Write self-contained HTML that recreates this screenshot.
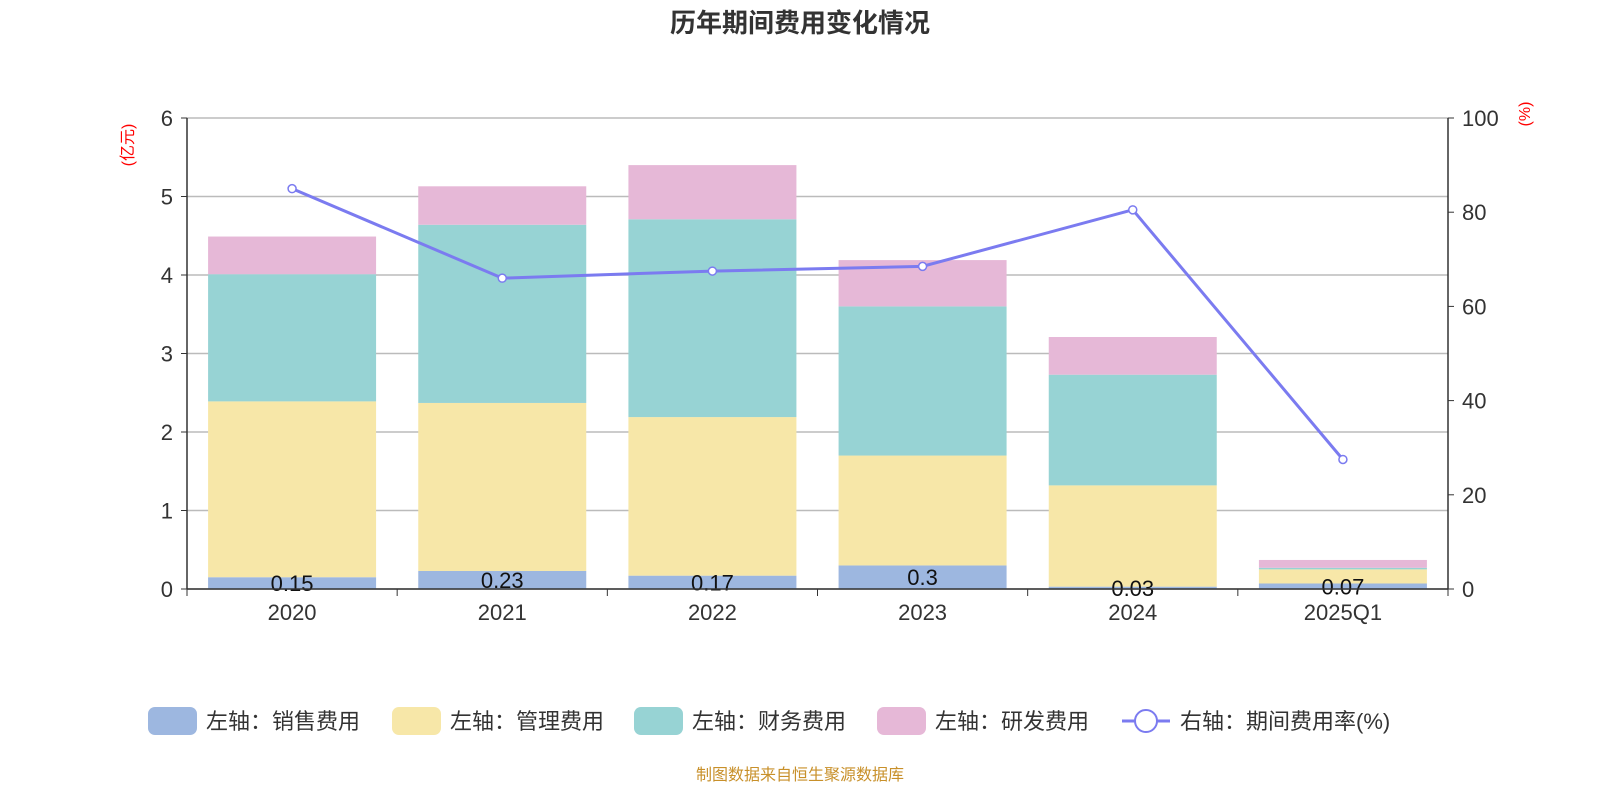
<!DOCTYPE html>
<html><head><meta charset="utf-8"><style>
body{margin:0;background:#fff;}
svg text{font-family:"Liberation Sans","Noto Sans CJK SC",sans-serif;}
</style></head><body>
<svg id="c" width="1600" height="800" xmlns="http://www.w3.org/2000/svg">
<text x="800" y="32" text-anchor="middle" font-size="26" font-weight="bold" fill="#333">历年期间费用变化情况</text>
<g id="grid"></g><g id="bars"></g><g id="line"></g><g id="axes"></g>
<text x="0" y="0" transform="translate(133,145) rotate(-90)" text-anchor="middle" font-size="16" fill="#f00">(亿元)</text>
<text x="0" y="0" transform="translate(1530,114) rotate(-90)" text-anchor="middle" font-size="16" fill="#f00">(%)</text>
<g id="legend"></g>
<text x="800" y="780" text-anchor="middle" font-size="16" fill="#c8902a">制图数据来自恒生聚源数据库</text>
</svg>
<script>
const categories=["2020","2021","2022","2023","2024","2025Q1"];
const sales=[0.15,0.23,0.17,0.3,0.03,0.07];
const mgmt=[2.24,2.14,2.02,1.40,1.29,0.18];
const fin=[1.62,2.27,2.52,1.90,1.41,0.02];
const rd=[0.48,0.49,0.69,0.59,0.48,0.10];
const rate=[85,66,67.5,68.5,80.5,27.5];
const leftTicks=[0,1,2,3,4,5,6];
const rightTicks=[0,20,40,60,80,100];
const NS="http://www.w3.org/2000/svg";
const X0=187,X1=1448,Y0=589,Y1=118;
const band=(X1-X0)/categories.length;
const xc=i=>X0+band*(i+0.5);
const yl=v=>Y0-(Y0-Y1)*v/6;
const yr=v=>Y0-(Y0-Y1)*v/100;
function mk(tag,attrs,parent){const e=document.createElementNS(NS,tag);for(const k in attrs)e.setAttribute(k,attrs[k]);document.getElementById(parent).appendChild(e);return e;}
leftTicks.forEach(t=>{
 const l=mk('line',{x1:X0,x2:X1,y1:yl(t),y2:yl(t),stroke:'#bbb','stroke-width':1.5},'grid');
 
 
 const tx=mk('text',{x:X0-14,y:yl(t)+8,'text-anchor':'end','font-size':22,fill:'#333'},'axes');tx.textContent=t;
 
 
 mk('line',{x1:X0-6,x2:X0,y1:yl(t),y2:yl(t),stroke:'#333'},'axes');
});
rightTicks.forEach(t=>{
 const tx=mk('text',{x:X1+14,y:yr(t)+8,'font-size':22,fill:'#333'},'axes');tx.textContent=t;
 
 
 mk('line',{x1:X1,x2:X1+6,y1:yr(t),y2:yr(t),stroke:'#333'},'axes');
});
mk('line',{x1:X0,x2:X0,y1:Y1,y2:Y0,stroke:'#333','stroke-width':1.5},'axes');
mk('line',{x1:X1,x2:X1,y1:Y1,y2:Y0,stroke:'#333','stroke-width':1.5},'axes');
mk('line',{x1:X0,x2:X1,y1:Y0,y2:Y0,stroke:'#333','stroke-width':1.5},'axes');
for(let i=0;i<=categories.length;i++)mk('line',{x1:X0+band*i,x2:X0+band*i,y1:Y0,y2:Y0+7,stroke:'#333'},'axes');
const series=[[sales,'#9db7e0','sales'],[mgmt,'#f7e7a8','mgmt'],[fin,'#97d3d4','fin'],[rd,'#e6b8d7','rd']];
const bw=168;
categories.forEach((c,i)=>{
 let acc=0;
 series.forEach(([arr,col,nm])=>{
  const r=mk('rect',{x:xc(i)-bw/2,y:yl(acc+arr[i]),width:bw,height:yl(acc)-yl(acc+arr[i]),fill:col},'bars');
  
  
  acc+=arr[i];
 });
 const lb=mk('text',{x:xc(i),y:yl(sales[i]/2)+8,'text-anchor':'middle','font-size':22,fill:'#111'},'bars');lb.textContent=sales[i];
 
 
 const xl=mk('text',{x:xc(i),y:620,'text-anchor':'middle','font-size':22,fill:'#333'},'axes');xl.textContent=c;
 
 
});
const pts=rate.map((v,i)=>xc(i)+','+yr(v)).join(' ');
const pl=mk('polyline',{points:pts,fill:'none',stroke:'#7b7bf0','stroke-width':3},'line');


rate.forEach((v,i)=>{const p=mk('circle',{cx:xc(i),cy:yr(v),r:4,fill:'#fff',stroke:'#7b7bf0','stroke-width':1.5},'line');
 
 });
const leg=[['#9db7e0','左轴：销售费用',148],['#f7e7a8','左轴：管理费用',392],['#97d3d4','左轴：财务费用',634],['#e6b8d7','左轴：研发费用',877]];
leg.forEach(([col,t,x])=>{
 const r=mk('rect',{x:x,y:707,width:49,height:28,rx:7,fill:col},'legend');
 
 
 const tx=mk('text',{x:x+58,y:729,'font-size':22,fill:'#333'},'legend');tx.textContent=t;
 
 
});
mk('line',{x1:1122,x2:1170,y1:721,y2:721,stroke:'#7b7bf0','stroke-width':3},'legend');
mk('circle',{cx:1146,cy:721,r:11,fill:'#fff',stroke:'#7b7bf0','stroke-width':2},'legend');
const lt=mk('text',{x:1180,y:729,'font-size':22,fill:'#333'},'legend');lt.textContent='右轴：期间费用率(%)';


</script>
</body></html>
